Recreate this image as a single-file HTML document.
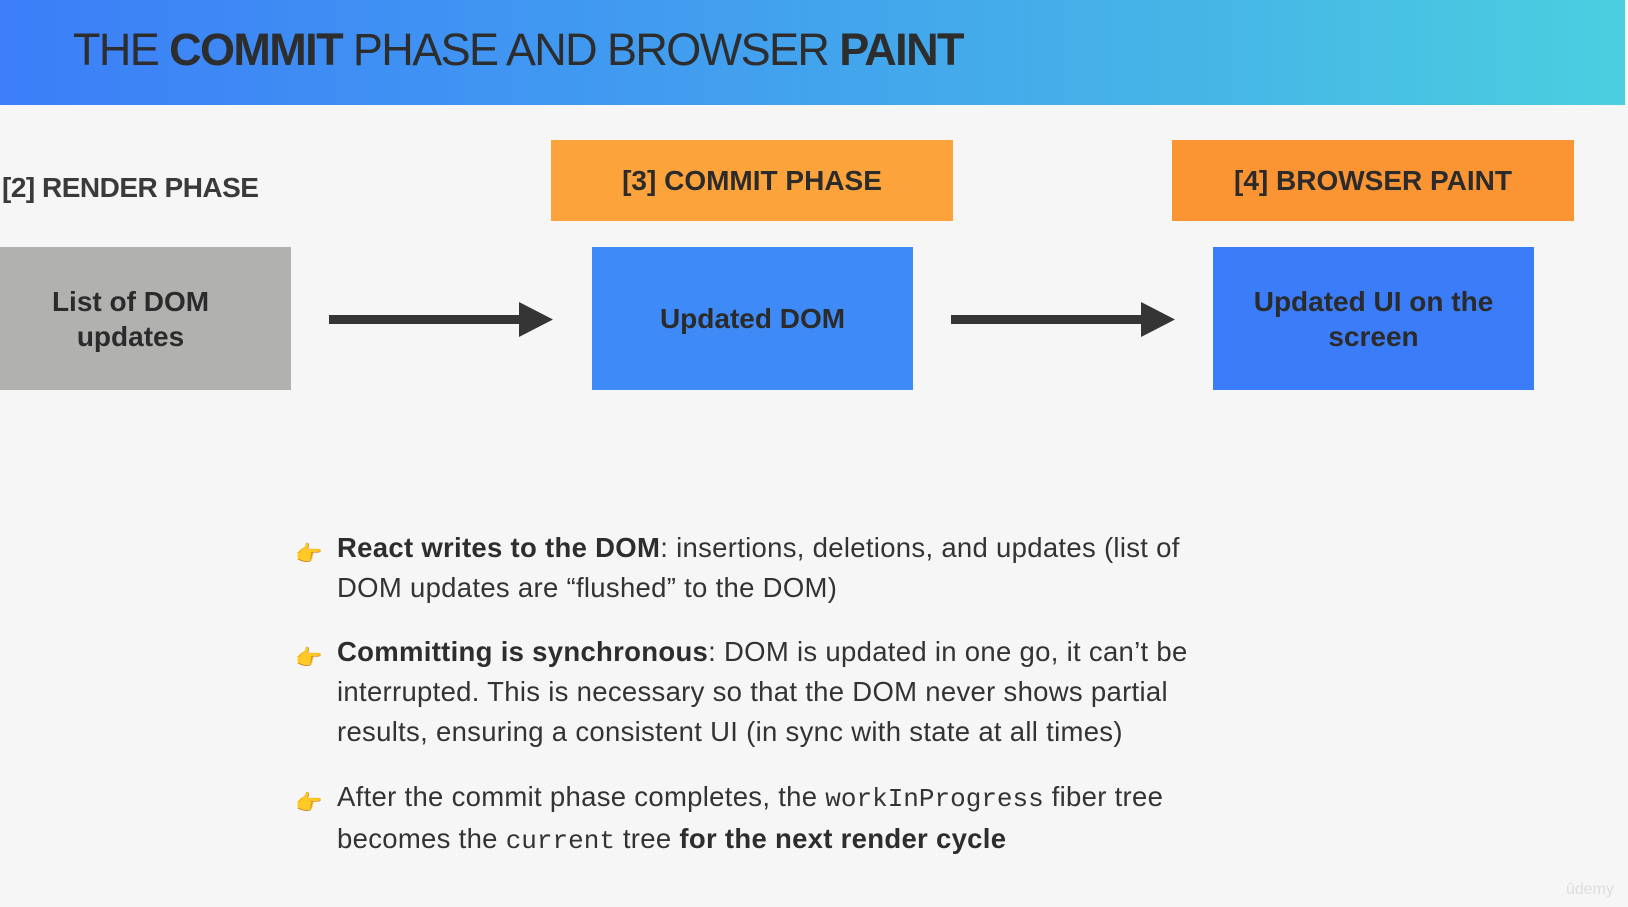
<!DOCTYPE html>
<html><head><meta charset="utf-8"><style>
*{margin:0;padding:0;box-sizing:border-box}
body{width:1628px;height:907px;background:#f6f6f6;font-family:"Liberation Sans",sans-serif;color:#333;position:relative;overflow:hidden}
.hdr{position:absolute;left:0;top:0;width:1625px;height:105px;background:linear-gradient(90deg,#3c7ef8 0%,#419cf0 40%,#46b6e6 75%,#4bcfe0 100%)}
.title{position:absolute;left:73px;top:24px;font-size:45px;color:#2d2d2d;letter-spacing:-1.6px;white-space:nowrap}
.b{position:absolute;display:flex;align-items:center;justify-content:center;text-align:center;font-weight:bold;color:#2b2b2b}
.arrow{position:absolute}
.bul{position:absolute;left:337px;font-size:27.5px;line-height:40px;color:#333;width:895px;letter-spacing:0.3px}
.bul b{color:#2d2d2d}
.hand{position:absolute;left:-42px;top:6px;font-size:22px;color:#f0a829}
code{font-family:"Liberation Mono",monospace;font-size:26px;letter-spacing:0}
</style></head><body>
<div class="hdr"></div>
<div class="title">THE <b>COMMIT</b> PHASE AND BROWSER <b>PAINT</b></div>
<div style="position:absolute;left:2px;top:172px;font-size:28px;font-weight:bold;color:#3a3a3a;letter-spacing:-0.5px">[2] RENDER PHASE</div>
<div class="b" style="left:551px;top:140px;width:402px;height:81px;background:#fca33b;font-size:28px">[3] COMMIT PHASE</div>
<div class="b" style="left:1172px;top:140px;width:402px;height:81px;background:#fb9433;font-size:28px">[4] BROWSER PAINT</div>
<div class="b" style="left:0;top:247px;width:291px;height:143px;background:#b1b2af;font-size:28px;line-height:35px;padding-right:30px">List of DOM<br>updates</div>
<div class="b" style="left:592px;top:247px;width:321px;height:143px;background:#3e8bf7;font-size:28px">Updated DOM</div>
<div class="b" style="left:1213px;top:247px;width:321px;height:143px;background:#3b7cf9;font-size:28px;line-height:35px">Updated UI on the<br>screen</div>
<svg class="arrow" style="left:0;top:0" width="1628" height="907">
<rect x="329" y="315" width="192" height="9" fill="#353535"/><polygon points="519,302 553,319.5 519,337" fill="#353535"/>
<rect x="951" y="315" width="192" height="9" fill="#353535"/><polygon points="1141,302 1175,319.5 1141,337" fill="#353535"/>
</svg>
<div class="bul" style="top:528px"><span class="hand">👉</span><b>React writes to the DOM</b>: insertions, deletions, and updates (list of DOM updates are “flushed” to the DOM)</div>
<div class="bul" style="top:632px"><span class="hand">👉</span><b>Committing is synchronous</b>: DOM is updated in one go, it can’t be interrupted. This is necessary so that the DOM never shows partial results, ensuring a consistent UI (in sync with state at all times)</div>
<div class="bul" style="top:777px"><span class="hand">👉</span>After the commit phase completes, the <code>workInProgress</code> fiber tree becomes the <code>current</code> tree <b>for the next render cycle</b></div>
<div style="position:absolute;right:14px;bottom:8px;font-size:16px;color:#ddd">ûdemy</div>
</body></html>
